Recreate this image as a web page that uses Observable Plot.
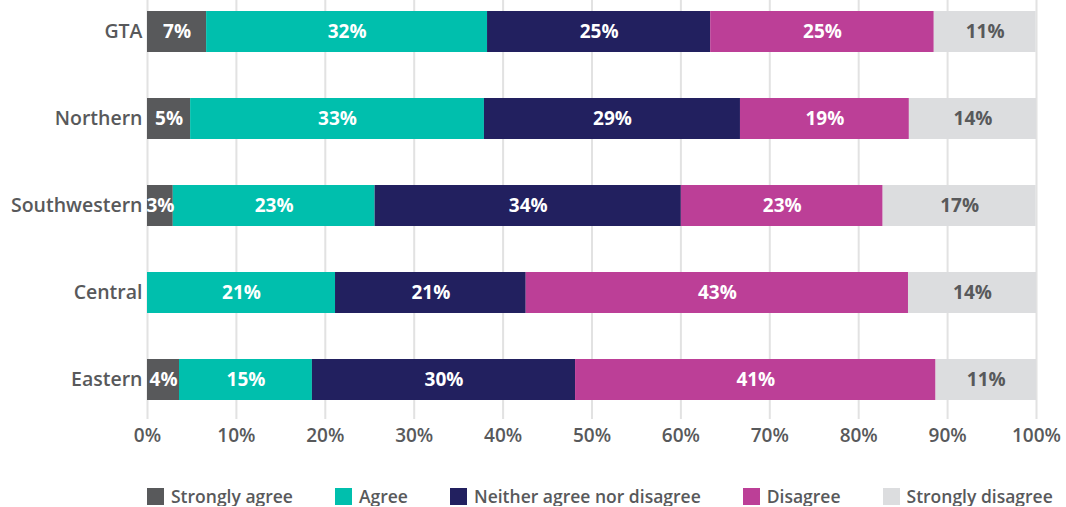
<!DOCTYPE html>
<html><head><meta charset="utf-8">
<script src="https://cdn.jsdelivr.net/npm/d3@7"></script>
<script src="https://cdn.jsdelivr.net/npm/@observablehq/plot@0.6"></script>
<style>
body{margin:0;background:#fff;font-family:"Open Sans",sans-serif;}
#legend{display:flex;gap:42px;padding-left:147px;margin-top:26px;font-size:17.5px;font-weight:600;color:#58595b;line-height:20px;}
.item{display:flex;align-items:center;gap:7px;}
.sw{width:17px;height:17px;display:inline-block;}
</style></head><body><div id="chart"></div><div id="legend"></div>
<script>
const regions = ["GTA","Northern","Southwestern","Central","Eastern"];
const categories = ["Strongly agree","Agree","Neither agree nor disagree","Disagree","Strongly disagree"];
const colors = ["#58595b","#00bfad","#22205f","#bc3f97","#dcdddf"];
const stronglyAgree    = [6.65, 4.85, 2.9, 0, 3.6];
const agree            = [31.6, 33.05, 22.7, 21.15, 14.95];
const neither          = [25.1, 28.8, 34.45, 21.45, 29.6];
const disagree         = [25.15, 19.0, 22.7, 43.0, 40.55];
const stronglyDisagree = [11.45, 14.3, 17.2, 14.4, 11.3];
const xTicks = [0,10,20,30,40,50,60,70,80,90,100];

const series = [stronglyAgree, agree, neither, disagree, stronglyDisagree];
const data = [];
regions.forEach((r, ri) => {
  categories.forEach((c, ci) => data.push({region: r, category: c, value: series[ci][ri]}));
});
const fmt = v => Math.round(v) + "%";

const chart = Plot.plot({
  width: 1066, height: 460,
  marginLeft: 147, marginRight: 30, marginTop: 0, marginBottom: 41,
  style: {fontFamily: "'Open Sans', sans-serif", background: "#fff"},
  x: {domain: [0, 100]},
  y: {domain: regions, paddingInner: 0.533, paddingOuter: 0.15, align: 0.37},
  color: {domain: categories, range: colors},
  marks: [
    Plot.gridX(xTicks, {stroke: "#e2e2e2", strokeOpacity: 1, strokeWidth: 2}),
    Plot.barX(data, Plot.stackX({x: "value", y: "region", fill: "category", order: categories})),
    Plot.text(data, Plot.stackX({x: "value", y: "region", z: "category", order: categories,
      text: d => d.category !== "Strongly disagree" && d.value > 0 ? fmt(d.value) : "",
      fill: "white", fontSize: 19, fontWeight: 700})),
    Plot.text(data, Plot.stackX({x: "value", y: "region", z: "category", order: categories,
      text: d => d.category === "Strongly disagree" && d.value > 0 ? fmt(d.value) : "",
      fill: "#58595b", fontSize: 19, fontWeight: 700})),
    Plot.axisX(xTicks, {tickSize: 0, tickPadding: 9, tickFormat: d => d + "%", fontSize: 19, fontWeight: 600, fill: "#58595b", label: null}),
    Plot.axisY({tickSize: 0, tickPadding: 5, fontSize: 19.5, fontWeight: 600, fill: "#58595b", label: null})
  ]
});
document.getElementById("chart").appendChild(chart);

const legend = document.getElementById("legend");
categories.forEach((c, i) => {
  const it = document.createElement("div");
  it.className = "item";
  const sw = document.createElement("span");
  sw.className = "sw";
  sw.style.background = colors[i];
  const t = document.createElement("span");
  t.textContent = c;
  it.appendChild(sw); it.appendChild(t);
  legend.appendChild(it);
});
</script></body></html>
